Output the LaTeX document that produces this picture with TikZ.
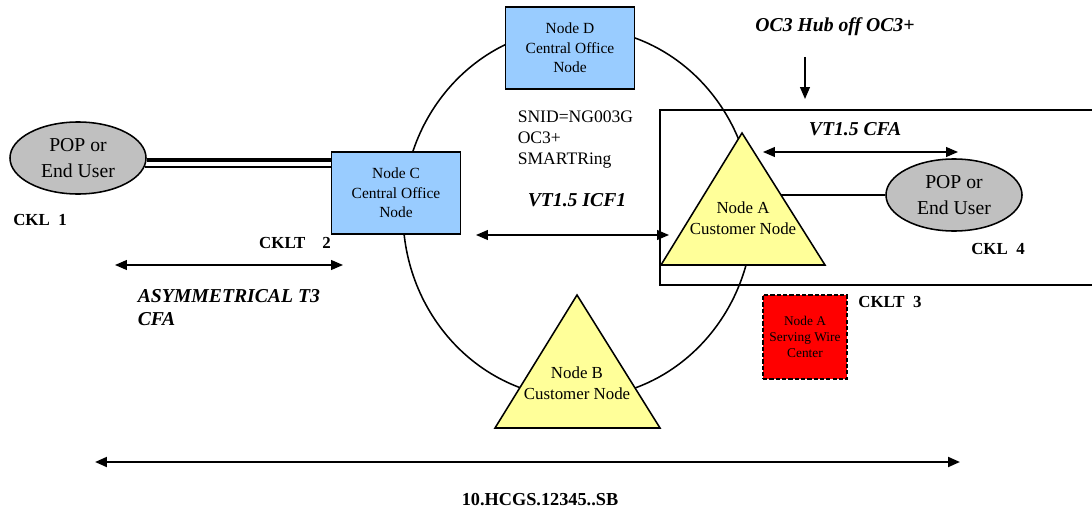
\documentclass[tikz,border=0pt]{standalone}
\usepackage{fontspec}
\setmainfont{Liberation Serif}
\usetikzlibrary{shapes.geometric,arrows.meta,calc}
\definecolor{coblue}{RGB}{153,204,255}
\definecolor{custyellow}{RGB}{255,255,153}
\definecolor{popgray}{RGB}{192,192,192}

\begin{document}
\begin{tikzpicture}[x=0.025cm, y=-0.025cm, line width=1.1pt,
  >={Triangle[length=8.5pt,width=7pt]},
  conode/.style={draw, fill=coblue, minimum width=3.22cm, minimum height=2.06cm,
    align=center, inner sep=1pt, font=\fontsize{11}{14}\selectfont},
  popnode/.style={ellipse, draw, fill=popgray, minimum width=3.4cm, minimum height=1.8cm,
    align=center, inner sep=0pt, font=\fontsize{14}{18}\selectfont},
  custtri/.style={draw, fill=custyellow, line join=miter},
  custtext/.style={align=center, font=\fontsize{12}{15}\selectfont},
  wirenode/.style={draw, dash pattern=on 3pt off 1.5pt, fill=red, minimum size=2.1cm,
    align=center, inner sep=1pt, font=\fontsize{9.5}{11.5}\selectfont},
  cktlabel/.style={font=\fontsize{12}{14}\selectfont\bfseries},
  flowlabel/.style={font=\fontsize{14}{16}\selectfont\bfseries\itshape},
  ringtext/.style={align=left, inner sep=0pt, font=\fontsize{12.5}{15}\selectfont}]
\useasboundingbox (0,0) rectangle (1092,512);

% ring and hub frame
\draw (578,213) ellipse [x radius=4.375cm, y radius=4.625cm];
\draw (1092,110) -- (660,110) -- (660,285) -- (1092,285);

% central office nodes
\node[conode] (nodeD) at (570,48) {Node D\\Central Office\\Node};
\node[conode] (nodeC) at (396,193) {Node C\\Central Office\\Node};

% customer nodes
\coordinate (aTop) at (742,133);
\coordinate (aLeft) at (661,265);
\coordinate (aRight) at (825,265);
\draw[custtri] (aLeft) -- (aTop) -- (aRight) -- cycle;
\node[custtext] (nodeA) at (743,218) {Node A\\Customer Node};
\coordinate (bTop) at (577,295);
\coordinate (bLeft) at (495,428);
\coordinate (bRight) at (660,428);
\draw[custtri] (bLeft) -- (bTop) -- (bRight) -- cycle;
\node[custtext] (nodeB) at (577,383) {Node B\\Customer Node};

% end users
\node[popnode] (popL) at (78,158) {POP or\\End User};
\node[popnode] (popR) at (954,195) {POP or\\End User};
\node[wirenode] (wireA) at (805,337) {Node A\\Serving Wire\\Center};

% links
\coordinate (lnkTop) at ([yshift=-1.5pt]popL.east);
\coordinate (lnkLow) at ([xshift=-1.5pt,yshift=-6.5pt]popL.east);
\draw[line width=3pt] (lnkTop) -- (lnkTop -| nodeC.west);
\draw[line width=1pt] (lnkLow) -- (lnkLow -| nodeC.west);
\coordinate (aEdge) at ($(aTop)!0.47!(aRight)$);
\draw (aEdge) -- (aEdge -| popR.west);

% circuit arrows
\coordinate (icfL) at (476,235);
\coordinate (icfR) at (669,235);
\draw[<->] (icfL) -- (icfR);
\coordinate (cfaL) at (763,152);
\coordinate (cfaR) at (958,152);
\draw[<->] (cfaL) -- (cfaR);
\coordinate (hubTop) at (805,57);
\coordinate (hubBot) at (805,99);
\draw[->] (hubTop) -- (hubBot);
\coordinate (asymL) at (115,265);
\coordinate (asymR) at (343,265);
\draw[<->] (asymL) -- (asymR);
\coordinate (spanL) at (95,462);
\coordinate (spanR) at (960,462);
\draw[<->, line width=1.6pt] (spanL) -- (spanR);

% labels
\node[ringtext, anchor=north west] (snid) at (517,110) {SNID=NG003G\\OC3+\\SMARTRing};
\node[flowlabel] (icfLbl) at (577,200) {VT1.5 ICF1};
\node[flowlabel] (hubLbl) at (835,27) {OC3 Hub off OC3+};
\node[flowlabel] (cfaLbl) at (855,129) {VT1.5 CFA};
\node[flowlabel, align=left, anchor=north west, inner sep=0pt] (asymLbl) at (137,289) {ASYMMETRICAL T3\\CFA};
\node[cktlabel] (ckl1) at (40,220) {CKL\enspace 1};
\node[cktlabel] (cklt2) at (295,243) {CKLT\quad 2};
\node[cktlabel] (cklt3) at (890,302) {CKLT\enspace 3};
\node[cktlabel] (ckl4) at (998,249) {CKL\enspace 4};
\node[font=\fontsize{13}{15}\selectfont\bfseries] (spanLbl) at (540,500) {10.HCGS.12345..SB};
\end{tikzpicture}
\end{document}
